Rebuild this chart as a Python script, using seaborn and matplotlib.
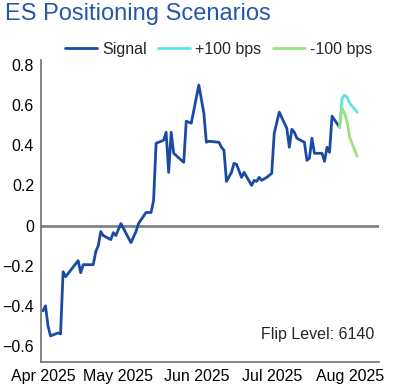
import matplotlib
matplotlib.use("Agg")
import matplotlib.pyplot as plt
import matplotlib.dates as mdates
from matplotlib.ticker import FuncFormatter
import pandas as pd
import seaborn as sns

# %% data
signal_dates = [
    "2025-04-01", "2025-04-02", "2025-04-03", "2025-04-04", "2025-04-07", "2025-04-08",
    "2025-04-09", "2025-04-10", "2025-04-15", "2025-04-16", "2025-04-17", "2025-04-21",
    "2025-04-22", "2025-04-23", "2025-04-24", "2025-04-25", "2025-04-28", "2025-04-29",
    "2025-04-30", "2025-05-02", "2025-05-06", "2025-05-08", "2025-05-09", "2025-05-12",
    "2025-05-14", "2025-05-15", "2025-05-16", "2025-05-19", "2025-05-20", "2025-05-21",
    "2025-05-22", "2025-05-23", "2025-05-27", "2025-05-28", "2025-05-30", "2025-06-02",
    "2025-06-04", "2025-06-05", "2025-06-06", "2025-06-10", "2025-06-11", "2025-06-12",
    "2025-06-13", "2025-06-15", "2025-06-16", "2025-06-17", "2025-06-19", "2025-06-20",
    "2025-06-23", "2025-06-24", "2025-06-25", "2025-06-26", "2025-06-27", "2025-06-29",
    "2025-07-01", "2025-07-02", "2025-07-04", "2025-07-07", "2025-07-08", "2025-07-09",
    "2025-07-10", "2025-07-11", "2025-07-14", "2025-07-15", "2025-07-16", "2025-07-17",
    "2025-07-18", "2025-07-21", "2025-07-22", "2025-07-23", "2025-07-24", "2025-07-25",
    "2025-07-28",
]
signal_values = [
    -0.425, -0.40, -0.50, -0.55, -0.535, -0.54,
    -0.23, -0.255, -0.175, -0.235, -0.195, -0.195,
    -0.13, -0.10, -0.03, -0.05, -0.07, -0.035,
    -0.05, 0.01, -0.085, -0.03, 0.01, 0.065,
    0.065, 0.125, 0.41, 0.425, 0.465, 0.265,
    0.465, 0.36, 0.315, 0.52, 0.51, 0.70,
    0.56, 0.415, 0.42, 0.415, 0.39, 0.375,
    0.22, 0.265, 0.31, 0.305, 0.24, 0.265,
    0.20, 0.225, 0.22, 0.24, 0.225, 0.24,
    0.26, 0.46, 0.565, 0.485, 0.39, 0.48,
    0.465, 0.435, 0.415, 0.325, 0.335, 0.435,
    0.36, 0.36, 0.32, 0.39, 0.365, 0.545,
    0.49,
]

scenario_dates = ["2025-07-28", "2025-07-29", "2025-07-30", "2025-07-31", "2025-08-01", "2025-08-04"]
up_100 = [0.49, 0.635, 0.65, 0.64, 0.61, 0.565]
down_100 = [0.49, 0.585, 0.56, 0.515, 0.44, 0.345]

flip_level = 6140

# %% build frames
sig = pd.DataFrame({"date": pd.to_datetime(signal_dates), "value": signal_values})
up = pd.DataFrame({"date": pd.to_datetime(scenario_dates), "value": up_100})
dn = pd.DataFrame({"date": pd.to_datetime(scenario_dates), "value": down_100})

sns.set_style("white")
plt.rcParams["font.family"] = ["Liberation Sans", "DejaVu Sans"]

fig = plt.figure(figsize=(3.96, 3.89), dpi=100)
ax = fig.add_axes([0.1035, 0.0694, 0.8535, 0.7764])

ax.axhline(0, color="#7f848c", lw=2, zorder=1)
sns.lineplot(data=sig, x="date", y="value", ax=ax, color="#1a4ba3", lw=2, label="Signal")
sns.lineplot(data=up, x="date", y="value", ax=ax, color="#5fe3ea", lw=2, label="+100 bps")
sns.lineplot(data=dn, x="date", y="value", ax=ax, color="#9ae27c", lw=2, label="-100 bps")

ax.set_xlim(pd.Timestamp("2025-03-31 05:00"), pd.Timestamp("2025-08-12 16:00"))
ax.set_ylim(-0.68, 0.825)
ax.set_yticks([-0.6, -0.4, -0.2, 0, 0.2, 0.4, 0.6, 0.8])
ax.yaxis.set_major_formatter(FuncFormatter(lambda v, p: "0" if abs(v) < 1e-9 else f"{v:.1f}".replace("-", "\u2212")))
ax.xaxis.set_major_locator(mdates.MonthLocator())
ax.xaxis.set_major_formatter(mdates.DateFormatter("%b %Y"))
ax.tick_params(axis="both", length=0, labelsize=11.5, labelcolor="black")
ax.tick_params(axis="y", pad=5)
ax.tick_params(axis="x", pad=5)
ax.set_xlabel("")
ax.set_ylabel("")

for s in ["top", "right"]:
    ax.spines[s].set_visible(False)
for s in ["left", "bottom"]:
    ax.spines[s].set_color("#6b7078")
    ax.spines[s].set_linewidth(1.2)

ax.legend(loc="center", bbox_to_anchor=(0.552, 0.874), bbox_transform=fig.transFigure,
          ncol=3, frameon=False, fontsize=11.5, handlelength=2.0, handletextpad=0.35,
          columnspacing=0.7)

ax.text(0.985, 0.09, f"Flip Level: {flip_level}", transform=ax.transAxes,
        ha="right", va="center", fontsize=11.5)

fig.text(0.013, 0.949, "ES Positioning Scenarios", ha="left", va="baseline",
         fontsize=17, color="#2458a8")

fig.savefig("out.png", dpi=100)
